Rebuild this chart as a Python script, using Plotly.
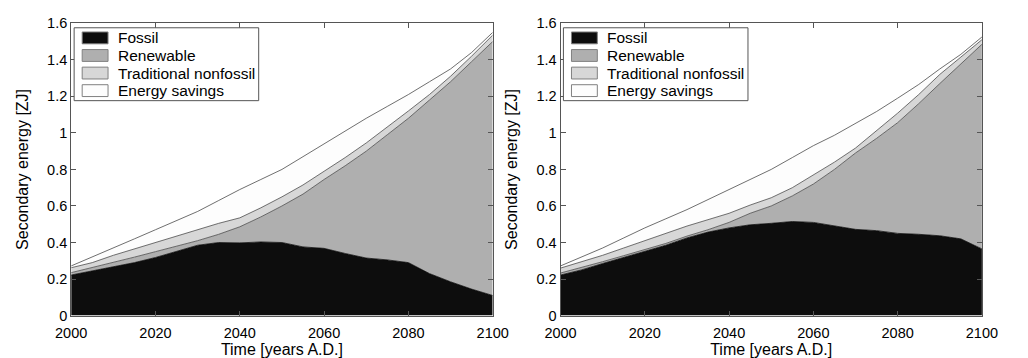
import plotly.graph_objects as go
from plotly.subplots import make_subplots

# Years on the horizontal axis (shared by both scenarios)
years = [2000, 2005, 2010, 2015, 2020, 2025, 2030, 2035, 2040, 2045, 2050,
         2055, 2060, 2065, 2070, 2075, 2080, 2085, 2090, 2095, 2100]

# Scenario A: cumulative upper edge of each stacked band [ZJ]
fossil_a = [0.222, 0.245, 0.265, 0.29, 0.318, 0.35, 0.385, 0.40, 0.398, 0.403, 0.40,
            0.376, 0.368, 0.34, 0.315, 0.305, 0.29, 0.23, 0.185, 0.145, 0.11]
renewable_a = [0.235, 0.262, 0.29, 0.32, 0.35, 0.38, 0.41, 0.445, 0.486, 0.54, 0.60,
               0.665, 0.745, 0.82, 0.90, 0.99, 1.08, 1.18, 1.28, 1.39, 1.50]
traditional_a = [0.262, 0.29, 0.33, 0.365, 0.40, 0.435, 0.47, 0.505, 0.535, 0.59, 0.65,
                 0.715, 0.79, 0.865, 0.945, 1.03, 1.12, 1.21, 1.31, 1.42, 1.535]
savings_a = [0.272, 0.32, 0.37, 0.42, 0.47, 0.52, 0.57, 0.63, 0.69, 0.745, 0.80,
             0.87, 0.94, 1.01, 1.08, 1.145, 1.21, 1.28, 1.35, 1.44, 1.55]

# Scenario B: cumulative upper edge of each stacked band [ZJ]
fossil_b = [0.222, 0.25, 0.285, 0.318, 0.35, 0.385, 0.425, 0.457, 0.48, 0.497, 0.505,
            0.515, 0.51, 0.49, 0.472, 0.465, 0.45, 0.445, 0.437, 0.42, 0.365]
renewable_b = [0.233, 0.263, 0.295, 0.328, 0.36, 0.395, 0.435, 0.47, 0.51, 0.56, 0.60,
               0.655, 0.72, 0.80, 0.89, 0.97, 1.056, 1.16, 1.27, 1.38, 1.485]
traditional_b = [0.26, 0.295, 0.33, 0.37, 0.41, 0.45, 0.49, 0.525, 0.56, 0.605, 0.645,
                 0.70, 0.77, 0.84, 0.917, 1.01, 1.108, 1.21, 1.32, 1.415, 1.51]
savings_b = [0.272, 0.32, 0.37, 0.425, 0.48, 0.53, 0.58, 0.635, 0.69, 0.745, 0.80,
             0.865, 0.93, 0.987, 1.05, 1.117, 1.19, 1.265, 1.35, 1.43, 1.525]

x_ticks = [2000, 2020, 2040, 2060, 2080, 2100]
y_ticks = [0, 0.2, 0.4, 0.6, 0.8, 1, 1.2, 1.4, 1.6]
y_tick_text = ["0", "0.2", "0.4", "0.6", "0.8", "1", "1.2", "1.4", "1.6"]

names = ["Fossil", "Renewable", "Traditional nonfossil", "Energy savings"]
fills = ["#0d0d0d", "#afafaf", "#d7d7d7", "#fdfdfd"]
edge = "#4a4a4a"
FONT = "Liberation Sans, Arial, Helvetica, sans-serif"
W, H = 1028, 358

fig = make_subplots(rows=1, cols=2)

panels = [
    (1, [fossil_a, renewable_a, traditional_a, savings_a]),
    (2, [fossil_b, renewable_b, traditional_b, savings_b]),
]
for col, bands in panels:
    for i, (name, vals, color) in enumerate(zip(names, bands, fills)):
        fig.add_trace(
            go.Scatter(
                x=years, y=vals, name=name, mode="lines",
                line=dict(color=edge if i else "#0d0d0d", width=0.8),
                fill="tozeroy" if i == 0 else "tonexty",
                fillcolor=color, showlegend=False, hoverinfo="skip",
            ),
            row=1, col=col,
        )

axis_common = dict(
    showline=True, linecolor="#555555", linewidth=1, mirror="ticks",
    ticks="inside", ticklen=5, tickcolor="#555555", showgrid=False,
    zeroline=False, tickfont=dict(family=FONT, size=14.5, color="black"),
)
title_font = dict(family=FONT, size=16, color="black")

x_domains = [[0.0554, 0.4786], [0.5467, 0.9698]]
y_domain = [0.1006, 0.9553]
for k, xd in enumerate(x_domains, start=1):
    xa = "xaxis" if k == 1 else f"xaxis{k}"
    ya = "yaxis" if k == 1 else f"yaxis{k}"
    fig.layout[xa].update(
        domain=xd, range=[2000, 2100], tickvals=x_ticks, ticklabelstandoff=4,
        title=dict(text="Time [years A.D.]", font=title_font, standoff=0),
        **axis_common,
    )
    fig.layout[ya].update(
        domain=y_domain, range=[0, 1.6], tickvals=y_ticks, ticktext=y_tick_text,
        title=dict(text="Secondary energy [ZJ]", font=title_font, standoff=14),
        **axis_common,
    )


def px(x, y):
    """Pixel position -> paper coordinates."""
    return x / W, 1 - y / H


# Boxed legend in the upper-left corner of each panel
shapes, annotations = [], []
for left in (60, 565):
    x0, y0 = px(left, 20.7)
    x1, y1 = px(left + 190.5, 97)
    shapes.append(dict(type="rect", xref="paper", yref="paper", x0=x0, y0=y0, x1=x1, y1=y1,
                       line=dict(color="#555555", width=1), fillcolor="white", layer="above"))
    for i, (name, color) in enumerate(zip(names, fills)):
        cy = 31.3 + i * 18.4
        sx0, sy0 = px(left + 8.3, cy - 6.2)
        sx1, sy1 = px(left + 35, cy + 6.2)
        shapes.append(dict(type="rect", xref="paper", yref="paper", x0=sx0, y0=sy0,
                           x1=sx1, y1=sy1, line=dict(color="#808080", width=1),
                           fillcolor=color, layer="above"))
        tx, ty = px(left + 43, cy)
        annotations.append(dict(text=name, xref="paper", yref="paper", x=tx, y=ty,
                                xanchor="left", yanchor="middle", showarrow=False,
                                font=dict(family=FONT, size=15.5, color="black")))

fig.update_layout(
    width=W, height=H,
    margin=dict(l=0, r=0, t=0, b=0),
    paper_bgcolor="white", plot_bgcolor="white",
    showlegend=False,
    shapes=shapes, annotations=annotations,
)

fig.write_html("out.html")
